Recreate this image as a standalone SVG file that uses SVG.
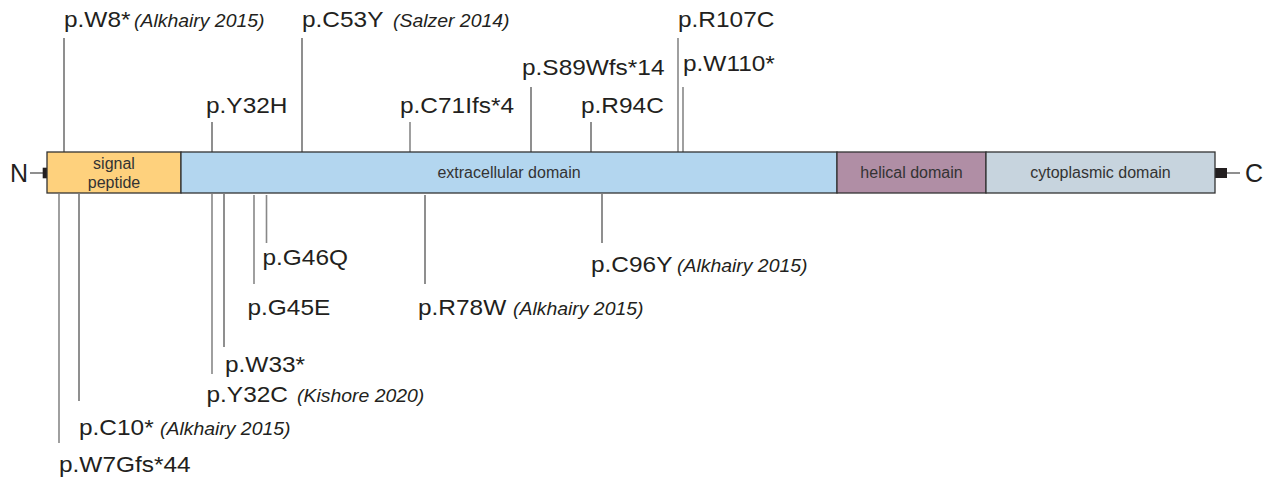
<svg xmlns="http://www.w3.org/2000/svg" width="1270" height="481" viewBox="0 0 1270 481">
<style>
.dom{stroke:#333;stroke-width:1.3}
.dl{font-family:"Liberation Sans",Arial,sans-serif;font-size:16px;fill:#333;text-anchor:middle}
.lb{font-family:"Liberation Sans",Arial,sans-serif;font-size:22px;fill:#231f20}
.ct{font-family:"Liberation Sans",Arial,sans-serif;font-size:17.5px;font-style:italic;fill:#231f20}
.term{font-family:"Liberation Sans",Arial,sans-serif;font-size:25px;fill:#231f20}
.dk{stroke:#333;stroke-width:1.1;fill:none}
.gr{stroke:#888;stroke-width:1.6;fill:none}
</style>
<rect width="1270" height="481" fill="#fff"/>
<g id="connectors">
  <line class="dk" x1="30" y1="173" x2="43" y2="173"/>
  <line class="dk" x1="1227" y1="173" x2="1240" y2="173"/>
  <line class="dk" x1="64" y1="38" x2="64" y2="152"/>
  <line class="dk" x1="302" y1="38" x2="302" y2="152"/>
  <line class="dk" x1="212" y1="122" x2="212" y2="152"/>
  <line class="gr" x1="410" y1="122" x2="410" y2="152"/>
  <line class="dk" x1="531" y1="87" x2="531" y2="152"/>
  <line class="dk" x1="591" y1="122" x2="591" y2="152"/>
  <line class="gr" x1="678" y1="38" x2="678" y2="152"/>
  <line class="gr" x1="683" y1="87" x2="683" y2="152"/>
  <line class="gr" x1="59" y1="194" x2="59" y2="443"/>
  <line class="dk" x1="79" y1="194" x2="79" y2="401"/>
  <line class="gr" x1="212" y1="194" x2="212" y2="374"/>
  <line class="dk" x1="224" y1="194" x2="224" y2="347"/>
  <line class="gr" x1="254" y1="195" x2="254" y2="284"/>
  <line class="gr" x1="266.5" y1="195" x2="266.5" y2="243"/>
  <line class="dk" x1="425" y1="195" x2="425" y2="284"/>
  <line class="dk" x1="602" y1="194" x2="602" y2="243"/>
</g>
<g id="protein">
  <rect x="42.7" y="167.7" width="4.5" height="10.6" fill="#231f20"/>
  <rect x="1215" y="168" width="12" height="10" fill="#231f20"/>
  <g id="signal-peptide">
    <rect class="dom" x="47" y="152" width="134" height="41" fill="#fed17d"/>
    <text class="dl" x="114" y="169">signal</text>
    <text class="dl" x="114" y="188">peptide</text>
  </g>
  <g id="extracellular-domain">
    <rect class="dom" x="181" y="152" width="656" height="41" fill="#b3d6ef"/>
    <text class="dl" x="509" y="178">extracellular domain</text>
  </g>
  <g id="helical-domain">
    <rect class="dom" x="837" y="152" width="149" height="41" fill="#b08ea5"/>
    <text class="dl" x="911.5" y="178">helical domain</text>
  </g>
  <g id="cytoplasmic-domain">
    <rect class="dom" x="986" y="152" width="229" height="41" fill="#c7d4de"/>
    <text class="dl" x="1100.5" y="178">cytoplasmic domain</text>
  </g>
  <g id="n-term"><text class="term" x="10" y="182">N</text></g>
  <g id="c-term"><text class="term" x="1245" y="182">C</text></g>
</g>
<g id="m-W8"><text class="lb" transform="matrix(1.11 0 0 1 64 27)">p.W8*</text><text class="ct" transform="matrix(1.11 0 0 1 134 27)">(Alkhairy 2015)</text></g>
<g id="m-C53Y"><text class="lb" transform="matrix(1.11 0 0 1 302 27)">p.C53Y</text><text class="ct" transform="matrix(1.11 0 0 1 393 27)">(Salzer 2014)</text></g>
<g id="m-Y32H"><text class="lb" transform="matrix(1.11 0 0 1 206 113)">p.Y32H</text></g>
<g id="m-C71Ifs"><text class="lb" transform="matrix(1.11 0 0 1 400 113)">p.C71Ifs*4</text></g>
<g id="m-S89Wfs"><text class="lb" transform="matrix(1.11 0 0 1 522 75)">p.S89Wfs*14</text></g>
<g id="m-R94C"><text class="lb" transform="matrix(1.11 0 0 1 581 113)">p.R94C</text></g>
<g id="m-R107C"><text class="lb" transform="matrix(1.11 0 0 1 678 27)">p.R107C</text></g>
<g id="m-W110"><text class="lb" transform="matrix(1.11 0 0 1 683 71)">p.W110*</text></g>
<g id="m-G46Q"><text class="lb" transform="matrix(1.11 0 0 1 262.5 265)">p.G46Q</text></g>
<g id="m-C96Y"><text class="lb" transform="matrix(1.11 0 0 1 591 271.5)">p.C96Y</text><text class="ct" transform="matrix(1.11 0 0 1 677 271.5)">(Alkhairy 2015)</text></g>
<g id="m-G45E"><text class="lb" transform="matrix(1.11 0 0 1 247.5 315)">p.G45E</text></g>
<g id="m-R78W"><text class="lb" transform="matrix(1.11 0 0 1 418 315)">p.R78W</text><text class="ct" transform="matrix(1.11 0 0 1 513 315)">(Alkhairy 2015)</text></g>
<g id="m-W33"><text class="lb" transform="matrix(1.11 0 0 1 225 371.5)">p.W33*</text></g>
<g id="m-Y32C"><text class="lb" transform="matrix(1.11 0 0 1 206.5 401.5)">p.Y32C</text><text class="ct" transform="matrix(1.11 0 0 1 297 401.5)">(Kishore 2020)</text></g>
<g id="m-C10"><text class="lb" transform="matrix(1.11 0 0 1 79 435)">p.C10*</text><text class="ct" transform="matrix(1.11 0 0 1 160 435)">(Alkhairy 2015)</text></g>
<g id="m-W7Gfs"><text class="lb" transform="matrix(1.11 0 0 1 59 471.5)">p.W7Gfs*44</text></g>
</svg>
